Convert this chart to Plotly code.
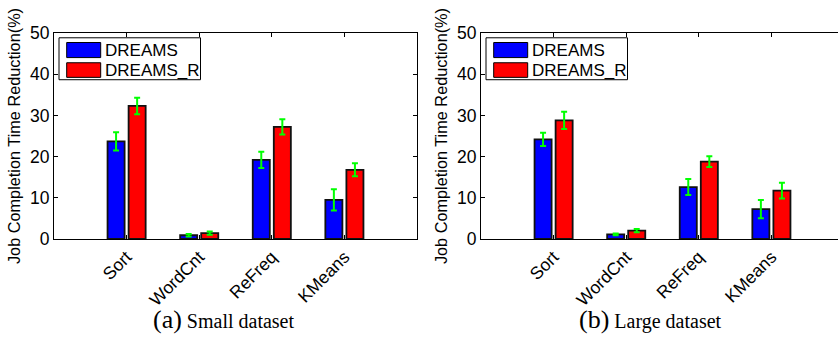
import plotly.graph_objects as go

W, H = 838, 346

categories = ["Sort", "WordCnt", "ReFreq", "KMeans"]
series_names = ["DREAMS", "DREAMS_R"]
series_colors = ["#0000ff", "#ff0000"]

small_dreams = [23.7, 0.9, 19.2, 9.5]
small_dreams_err = [2.2, 0.3, 1.95, 2.6]
small_dreams_r = [32.3, 1.4, 27.2, 16.8]
small_dreams_r_err = [2.0, 0.4, 1.85, 1.6]

large_dreams = [24.2, 1.1, 12.6, 7.25]
large_dreams_err = [1.6, 0.2, 1.95, 2.2]
large_dreams_r = [28.8, 2.0, 18.8, 11.75]
large_dreams_r_err = [2.1, 0.4, 1.3, 1.9]

y_ticks = [0, 10, 20, 30, 40, 50]
captions = [("(a)", "Small dataset"), ("(b)", "Large dataset")]
y_title = "Job Completion Time Reduction(%)"

SANS = "Liberation Sans, Arial, sans-serif"
SERIF = "Liberation Serif, Times New Roman, serif"

# pixel layout
ax_top, ax_bot = 24.5, 243.0
unit_px = 72.6
axes_px = [(54.0, 417.0), (481.0, 838.0)]

fig = go.Figure()

panels = [
    ((small_dreams, small_dreams_err), (small_dreams_r, small_dreams_r_err)),
    ((large_dreams, large_dreams_err), (large_dreams_r, large_dreams_r_err)),
]

for p, panel in enumerate(panels):
    xa = "x" if p == 0 else "x2"
    ya = "y" if p == 0 else "y2"
    for s, (vals, errs) in enumerate(panel):
        fig.add_trace(go.Bar(
            x=categories, y=vals, name=series_names[s],
            marker=dict(color=series_colors[s], line=dict(color="#111111", width=1.8)),
            error_y=dict(type="data", array=errs, visible=True,
                         color="#00ff00", thickness=2, width=3),
            xaxis=xa, yaxis=ya, showlegend=False,
        ))

def px_x(v):
    return v / W

def px_y(v):
    return 1 - v / H

layout = dict(
    width=W, height=H,
    margin=dict(l=0, r=0, t=0, b=0),
    paper_bgcolor="white", plot_bgcolor="white",
    barmode="group", bargap=0.42, bargroupgap=0.19,
    showlegend=False,
)

shapes = []
annotations = []
for p, (x0, x1) in enumerate(axes_px):
    n_units = (x1 - x0) / unit_px
    xkey = "xaxis" if p == 0 else "xaxis2"
    ykey = "yaxis" if p == 0 else "yaxis2"
    layout[xkey] = dict(
        domain=[px_x(x0), px_x(x1)], range=[-1, n_units - 1],
        anchor="y" if p == 0 else "y2",
        showline=True, linecolor="black", linewidth=1, mirror="ticks",
        ticks="inside", ticklen=4, tickcolor="black",
        tickangle=-45, tickfont=dict(family=SANS, size=17.5, color="black"),
        showgrid=False, zeroline=False, fixedrange=True,
    )
    layout[ykey] = dict(
        domain=[px_y(ax_bot), px_y(ax_top)], range=[0, 50],
        anchor="x" if p == 0 else "x2",
        tickvals=y_ticks,
        showline=True, linecolor="black", linewidth=1,
        mirror="ticks" if p == 0 else False,
        ticks="inside", ticklen=4, tickcolor="black",
        tickfont=dict(family=SANS, size=17.5, color="black"),
        title=dict(text=y_title, font=dict(family=SANS, size=16.3, color="black"), standoff=5),
        showgrid=False, zeroline=False, fixedrange=True,
    )
    # legend (drawn manually to mimic the large patches)
    bx0, by0, bx1, by1 = x0 + 5, 29.5, x0 + 146.5, 74
    shapes.append(dict(type="rect", xref="paper", yref="paper",
                       x0=px_x(bx0), x1=px_x(bx1), y0=px_y(by1), y1=px_y(by0),
                       line=dict(color="black", width=1), fillcolor="white"))
    for s, (py0, py1) in enumerate([(34.5, 50.5), (56, 71.5)]):
        shapes.append(dict(type="rect", xref="paper", yref="paper",
                           x0=px_x(x0 + 12.7), x1=px_x(x0 + 46.7),
                           y0=px_y(py1), y1=px_y(py0),
                           line=dict(color="black", width=1),
                           fillcolor=series_colors[s]))
        annotations.append(dict(xref="paper", yref="paper",
                                x=px_x(x0 + 48.5), y=px_y((py0 + py1) / 2 + 0.5),
                                xanchor="left", yanchor="middle", showarrow=False,
                                text=series_names[s],
                                font=dict(family=SANS, size=17, color="black")))
    # caption
    lab, txt = captions[p]
    cx = (x0 + x0 + 363) / 2 - 12
    annotations.append(dict(xref="paper", yref="paper",
                            x=px_x(cx), y=px_y(328), xanchor="center", yanchor="middle",
                            showarrow=False,
                            text='<span style="font-size:26px">%s</span> %s' % (lab, txt),
                            font=dict(family=SERIF, size=20, color="black")))

layout["shapes"] = shapes
layout["annotations"] = annotations
fig.update_layout(**layout)

fig.write_html("out.html", config={"displayModeBar": False})
